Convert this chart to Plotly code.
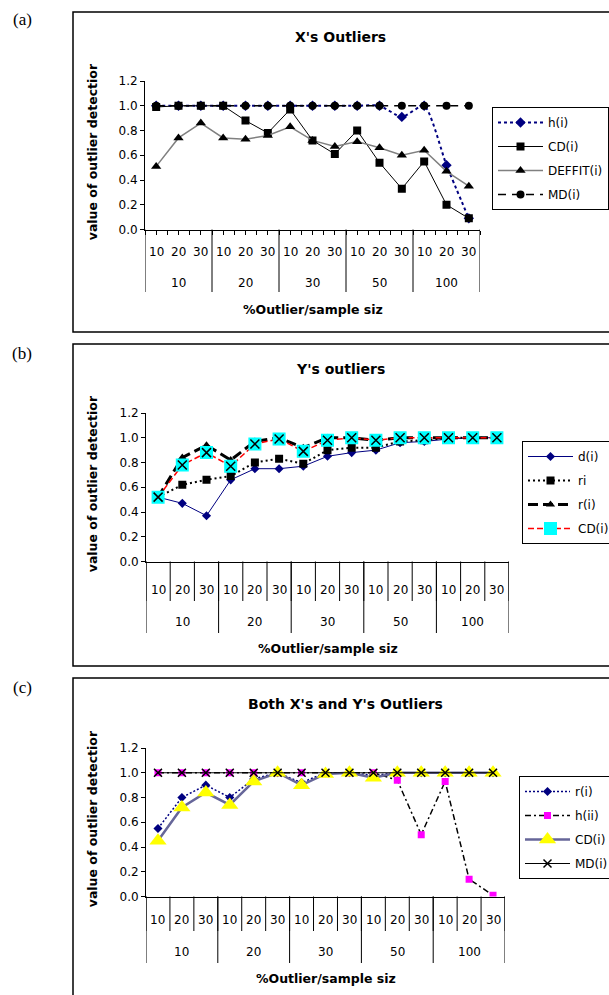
import plotly.graph_objects as go

W, H = 609, 995

# ---------------- data ----------------
outlier_pct = ["10", "20", "30", "50", "100"]
sample_size = ["10", "20", "30"]

# (a) X's outliers
a_h = [1.0, 1.0, 1.0, 1.0, 1.0, 1.0, 1.0, 1.0, 1.0, 1.0, 1.0, 0.91, 1.0, 0.52, 0.09]
a_cd = [0.99, 1.0, 1.0, 1.0, 0.88, 0.78, 0.97, 0.72, 0.61, 0.80, 0.54, 0.33, 0.55, 0.20, 0.09]
a_deffit = [0.51, 0.74, 0.86, 0.74, 0.73, 0.76, 0.83, 0.72, 0.67, 0.71, 0.66, 0.60, 0.64, 0.47, 0.35]
a_md = [1.0] * 15

# (b) Y's outliers
b_d = [0.52, 0.47, 0.37, 0.66, 0.75, 0.75, 0.77, 0.85, 0.88, 0.90, 0.96, 0.97, 0.99, 1.0, 1.0]
b_ri = [0.52, 0.62, 0.66, 0.69, 0.80, 0.83, 0.79, 0.90, 0.92, 0.92, 0.97, 0.98, 1.0, 1.0, 1.0]
b_r = [0.52, 0.84, 0.94, 0.82, 0.97, 1.0, 0.92, 1.0, 1.0, 0.98, 1.0, 1.0, 1.0, 1.0, 1.0]
b_cd = [0.52, 0.78, 0.88, 0.77, 0.95, 0.99, 0.89, 0.98, 1.0, 0.98, 1.0, 1.0, 1.0, 1.0, 1.0]

# (c) Both X's and Y's outliers
c_r = [0.55, 0.80, 0.90, 0.80, 0.95, 1.0, 0.92, 1.0, 1.0, 0.98, 1.0, 1.0, 1.0, 1.0, 1.0]
c_h = [1.0, 1.0, 1.0, 1.0, 1.0, 1.0, 1.0, 1.0, 1.0, 1.0, 0.94, 0.50, 0.93, 0.14, 0.01]
c_cd = [0.45, 0.72, 0.84, 0.74, 0.93, 1.0, 0.90, 0.99, 1.0, 0.96, 1.0, 1.0, 1.0, 1.0, 1.0]
c_md = [1.0] * 15

y_ticks = [0.0, 0.2, 0.4, 0.6, 0.8, 1.0, 1.2]

# ---------------- helpers ----------------
FONT = "DejaVu Sans"


def xp(px):
    return px / W


def yp(py):
    return 1 - py / H


n_cat = len(outlier_pct) * len(sample_size)
xs = list(range(n_cat))

fig = go.Figure()

panels = [
    dict(left=145, right=480, top=81, bottom=229.5, box=(73, 12, 640, 332),
         title="X's Outliers", title_y=37, title_x=340, lab="(a)", lab_y=20,
         inner_y=252, group_y=283, axtitle_y=309, div_inner=None, div_group=292,
         half_ticks=True, legend=(492, 107)),
    dict(left=146, right=509, top=413, bottom=561.5, box=(73, 344, 640, 666),
         title="Y's outliers", title_y=369, title_x=340, lab="(b)", lab_y=353,
         inner_y=590, group_y=622, axtitle_y=648, div_inner=601, div_group=633,
         half_ticks=False, legend=(522, 441)),
    dict(left=146, right=505, top=748, bottom=896.5, box=(73, 678, 640, 1010),
         title="Both X's and Y's Outliers", title_y=704, title_x=345, lab="(c)", lab_y=687,
         inner_y=920, group_y=952, axtitle_y=978, div_inner=931, div_group=963,
         half_ticks=False, legend=(519, 776)),
]

shapes = []
annotations = []


def note(x, y, text, xref="paper", size=12, family=FONT, angle=0):
    annotations.append(dict(x=x, y=y, xref=xref, yref="paper", text=text, showarrow=False,
                            xanchor="center", yanchor="middle", textangle=angle,
                            font=dict(family=family, size=size, color="black")))


for i, p in enumerate(panels):
    k = "" if i == 0 else str(i + 1)
    xa = "xaxis" + k
    ya = "yaxis" + k
    xref = "x" + k
    if p["half_ticks"]:
        tv = [v / 2 - 0.5 for v in range(2 * n_cat + 1)]
    else:
        tv = []
    fig.layout[xa] = dict(
        domain=[xp(p["left"]), xp(p["right"])], range=[-0.5, n_cat - 0.5],
        showgrid=False, zeroline=False, showline=True, linecolor="black", linewidth=1,
        tickmode="array", tickvals=tv, ticks="outside" if tv else "", ticklen=4,
        tickcolor="black", showticklabels=False, anchor="y" + k, fixedrange=True,
        automargin=False,
    )
    fig.layout[ya] = dict(
        domain=[yp(p["bottom"]), yp(p["top"])], range=[0, 1.2],
        showgrid=False, zeroline=False, showline=True, linecolor="black", linewidth=1,
        tickmode="array", tickvals=y_ticks, ticktext=[f"{v:.1f}" for v in y_ticks],
        ticks="outside", ticklen=4, tickcolor="black",
        tickfont=dict(family=FONT, size=12, color="black"), anchor=xref, fixedrange=True,
        automargin=False,
    )
    # panel frame
    bx0, by0, bx1, by1 = p["box"]
    shapes.append(dict(type="rect", xref="paper", yref="paper", x0=xp(bx0), x1=xp(bx1),
                       y0=yp(by1), y1=yp(by0), line=dict(color="black", width=1.5)))
    # dividers
    bottom_paper = yp(p["bottom"])
    if p["div_inner"] is not None:
        for b in range(n_cat + 1):
            shapes.append(dict(type="line", xref=xref, yref="paper", x0=b - 0.5, x1=b - 0.5,
                               y0=bottom_paper, y1=yp(p["div_inner"]),
                               line=dict(color="black", width=1)))
    for g in range(len(outlier_pct) + 1):
        xb = g * len(sample_size) - 0.5
        shapes.append(dict(type="line", xref=xref, yref="paper", x0=xb, x1=xb,
                           y0=bottom_paper, y1=yp(p["div_group"]),
                           line=dict(color="black", width=1)))
    # category labels
    for gi, g in enumerate(outlier_pct):
        for si, s in enumerate(sample_size):
            note(gi * len(sample_size) + si, yp(p["inner_y"]), s, xref=xref)
        note(gi * len(sample_size) + 1, yp(p["group_y"]), g, xref=xref)
    # axis titles
    note((n_cat - 1) / 2, yp(p["axtitle_y"]), "<b>%Outlier/sample siz</b>", xref=xref, size=12.5)
    note(xp(92), yp((p["top"] + p["bottom"]) / 2 - 3), "<b>value of outlier detectior</b>",
         size=12.5, angle=-90)
    # chart title
    note(xp(p["title_x"]), yp(p["title_y"]), "<b>" + p["title"] + "</b>", size=14)
    # panel letter
    note(xp(22), yp(p["lab_y"]), p["lab"], family="Liberation Serif", size=17)
    # legend
    lx, ly = p["legend"]
    lname = "legend" if i == 0 else "legend" + str(i + 1)
    fig.layout[lname] = dict(
        x=xp(lx), y=yp(ly), xanchor="left", yanchor="top", xref="paper", yref="paper",
        bgcolor="white", bordercolor="black", borderwidth=1,
        font=dict(family=FONT, size=12, color="black"), itemwidth=45,
        tracegroupgap=5, traceorder="grouped",
    )


def add(y, name, panel, legend, line, marker, shape="linear", showlegend=True, group=None):
    k = "" if panel == 0 else str(panel + 1)
    fig.add_trace(go.Scatter(
        x=xs, y=y, name=name, mode="lines+markers", xaxis="x" + k, yaxis="y" + k,
        line=dict(shape=shape, **line), marker=marker, legend=legend,
        legendgroup=group or (legend + name), showlegend=showlegend, hoverinfo="skip",
    ))


# (a)
add(a_h, "h(i)", 0, "legend", dict(color="#000080", width=2, dash="3px,3px", smoothing=0.6),
    dict(symbol="diamond", size=8, color="#000080"), shape="spline")
add(a_cd, "CD(i)", 0, "legend", dict(color="black", width=1),
    dict(symbol="square", size=8, color="black"))
add(a_deffit, "DEFFIT(i)", 0, "legend", dict(color="#808080", width=1.5),
    dict(symbol="triangle-up", size=9, color="black"))
add(a_md, "MD(i)", 0, "legend", dict(color="black", width=1.5, dash="8px,6px"),
    dict(symbol="circle", size=8, color="black"))

# (b)
add(b_d, "d(i)", 1, "legend2", dict(color="#000080", width=1),
    dict(symbol="diamond", size=7, color="#000080"))
add(b_ri, "ri", 1, "legend2", dict(color="black", width=2, dash="2px,3px"),
    dict(symbol="square", size=8, color="black"))
add(b_r, "r(i)", 1, "legend2", dict(color="black", width=3, dash="10px,5px"),
    dict(symbol="triangle-up", size=8, color="black"))
add(b_cd, "CD(i)", 1, "legend2", dict(color="#FF0000", width=1.5, dash="6px,3px"),
    dict(symbol="square", size=13, color="#00FFFF"), group="bcd")
fig.add_trace(go.Scatter(x=xs, y=b_cd, mode="markers", xaxis="x2", yaxis="y2", showlegend=False,
                         legend="legend2", legendgroup="bcd", hoverinfo="skip",
                         marker=dict(symbol="x-thin-open", size=9, color="black",
                                     line=dict(color="black", width=1.5))))

# (c)
add(c_r, "r(i)", 2, "legend3", dict(color="#000080", width=1.5, dash="2px,2px"),
    dict(symbol="diamond", size=7, color="#000080"))
add(c_h, "h(ii)", 2, "legend3", dict(color="black", width=1.5, dash="6px,3px,2px,3px"),
    dict(symbol="square", size=7, color="#FF00FF"))
add(c_cd, "CD(i)", 2, "legend3", dict(color="#666699", width=2.5),
    dict(symbol="triangle-up", size=15, color="#FFFF00"))
add(c_md, "MD(i)", 2, "legend3", dict(color="black", width=1),
    dict(symbol="x-thin-open", size=8, color="black", line=dict(color="black", width=1.5)))

fig.update_layout(
    width=W, height=H, margin=dict(l=0, r=0, t=0, b=0, autoexpand=False),
    paper_bgcolor="white", plot_bgcolor="white",
    shapes=shapes, annotations=annotations, showlegend=True,
)

fig.write_html("out.html", config={"displayModeBar": False},
               post_script="document.body.style.margin='0';")
